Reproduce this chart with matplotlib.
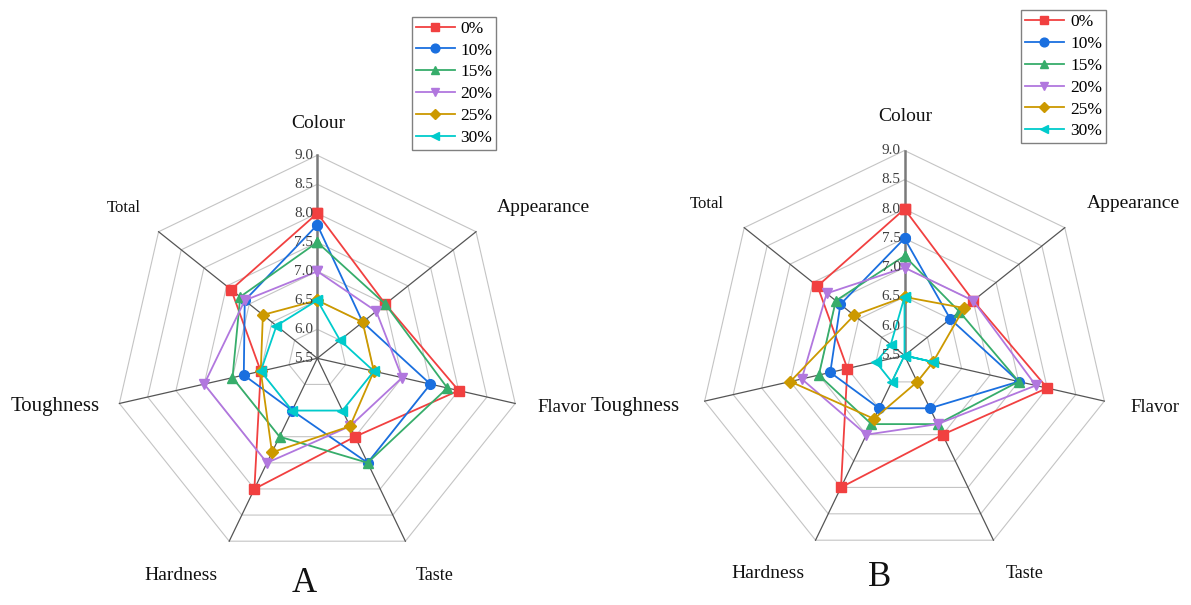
import numpy as np
import matplotlib
matplotlib.use('Agg')
import matplotlib.pyplot as plt
from matplotlib.transforms import offset_copy

categories = ['Colour', 'Appearance', 'Flavor', 'Taste', 'Hardness', 'Toughness', 'Total']
series_labels = ['0%', '10%', '15%', '20%', '25%', '30%']

# Chart A values (per series, in category order)
a_0 = [8.0, 7.0, 8.0, 7.0, 8.0, 6.5, 7.4]
a_10 = [7.8, 6.5, 7.5, 7.5, 6.5, 6.8, 7.1]
a_15 = [7.5, 7.0, 7.8, 7.5, 7.0, 7.0, 7.2]
a_20 = [7.0, 6.8, 7.0, 6.8, 7.5, 7.5, 7.1]
a_25 = [6.5, 6.5, 6.5, 6.8, 7.3, 6.5, 6.7]
a_30 = [6.5, 6.0, 6.5, 6.5, 6.5, 6.5, 6.4]

# Chart B values
b_0 = [8.0, 7.0, 8.0, 7.0, 8.0, 6.5, 7.4]
b_10 = [7.5, 6.5, 7.5, 6.5, 6.5, 6.8, 6.9]
b_15 = [7.2, 6.7, 7.5, 6.8, 6.8, 7.0, 7.0]
b_20 = [7.0, 7.0, 7.8, 6.8, 7.0, 7.3, 7.2]
b_25 = [6.5, 6.8, 6.0, 6.0, 6.7, 7.5, 6.6]
b_30 = [6.5, 5.5, 6.0, 5.5, 6.0, 6.0, 5.8]

ticks = [5.5, 6.0, 6.5, 7.0, 7.5, 8.0, 8.5, 9.0]
tick_labels = ['5.5', '6.0', '6.5', '7.0', '7.5', '8.0', '8.5', '9.0']

colors = ['#F14040', '#1A6FDF', '#37AD6B', '#B177DE', '#CC9900', '#00CBCC']
markers = ['s', 'o', '^', 'v', 'D', '<']
msizes = [6.5, 7, 7, 7, 6, 7]

plt.rcParams['font.family'] = ['Liberation Serif', 'DejaVu Serif']

W, H = 1191, 605
fig = plt.figure(figsize=(W / 100, H / 100), dpi=100)


def px(x, y):
    return x / W, 1 - y / H


def radar(center, R, data, label_pos, legend_xy, letter, letter_pos):
    cx, cy = center
    rect = [(cx - R) / W, (H - cy - R) / H, 2 * R / W, 2 * R / H]
    ax = fig.add_axes(rect, projection='polar')
    ax.set_theta_offset(np.pi / 2)
    ax.set_theta_direction(-1)
    ax.set_ylim(ticks[0], ticks[-1])
    ax.axis('off')
    n = len(categories)
    theta = np.arange(n) * 2 * np.pi / n
    thc = np.append(theta, theta[0])
    for r in ticks[1:]:
        ax.plot(thc, [r] * (n + 1), color='#C4C4C4', lw=0.8, zorder=1, clip_on=False)
    for i, t in enumerate(theta):
        if i == 0:
            ax.plot([t, t], [ticks[0], ticks[-1]], color='#7A7A7A', lw=1.8, zorder=1.5, clip_on=False)
        else:
            ax.plot([t, t], [ticks[0], ticks[-1]], color='#555555', lw=0.9, zorder=1.5, clip_on=False)
    handles = []
    for lab, col, mk, ms, vals in zip(series_labels, colors, markers, msizes, data):
        v = list(vals) + [vals[0]]
        h, = ax.plot(thc, v, color=col, lw=1.3, marker=mk, ms=ms, label=lab,
                     zorder=3, clip_on=False)
        handles.append(h)
    tr = offset_copy(ax.transData, fig=fig, x=-4, y=0, units='dots')
    for r, l in zip(ticks, tick_labels):
        ax.text(0, r, l, transform=tr, ha='right', va='center', fontsize=11,
                color='#404040', zorder=4)
    sizes = [14, 14, 13.5, 13, 14, 15, 12]
    for cat, (x, y), fs in zip(categories, label_pos, sizes):
        fig.text(*px(x, y), cat, ha='center', va='center', fontsize=fs, color='#111111')
    fig.text(*px(*letter_pos), letter, ha='center', va='center', fontsize=25, color='#111111')
    leg = ax.legend(handles=handles, loc='upper left', bbox_to_anchor=px(*legend_xy),
                    bbox_transform=fig.transFigure, fontsize=12.5, frameon=True,
                    fancybox=False, framealpha=1, edgecolor='#808080',
                    handlelength=2.25, handletextpad=0.35, labelspacing=0.33,
                    borderpad=0.22, borderaxespad=0, markerscale=0.9)
    leg.get_frame().set_linewidth(1.0)
    return ax


radar((317.3, 358.3), 203, [a_0, a_10, a_15, a_20, a_25, a_30],
      [(318, 123), (543, 207), (562, 407), (435, 575), (181, 575), (55, 407), (124, 208)],
      (411.7, 16.7), 'A', (304, 583))
radar((904.5, 355.5), 205, [b_0, b_10, b_15, b_20, b_25, b_30],
      [(905, 117), (1133, 203), (1155, 407), (1025, 573), (768, 573), (635, 407), (707, 204)],
      (1021, 10), 'B', (880, 578))

fig.savefig('out.png', dpi=100)
